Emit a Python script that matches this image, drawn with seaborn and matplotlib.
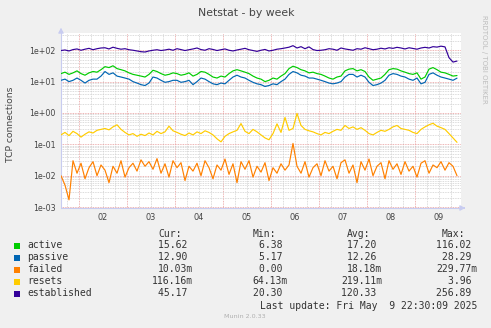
import numpy as np
import pandas as pd
import matplotlib
matplotlib.use("Agg")
import matplotlib.pyplot as plt
import seaborn as sns
from matplotlib.ticker import FixedLocator, NullFormatter, LogLocator
from matplotlib.patches import Rectangle, FancyArrowPatch
import matplotlib.transforms as mtransforms

# ---------------- data ----------------
series_names = ["active", "passive", "failed", "resets", "established"]
series_colors = ["#00CC00", "#0066B3", "#FF8000", "#FFCC00", "#330099"]

start_day = 0.625          # May 1, 15:00 (days since May 1 00:00)
step_days = 1.0 / 12.0     # 2 hours per sample

established = [
    98, 102, 95, 105, 110, 100, 108, 115, 104, 112, 118,
    120, 110, 125, 115, 108, 112, 104, 100, 95, 90,
    88, 95, 100, 104, 98, 102, 108, 100, 112, 105, 98, 104,
    110, 118, 105, 100, 112, 106, 98, 104, 110, 100, 95, 102, 108,
    115, 104, 98, 92, 100, 106, 95, 100, 108, 112, 118, 125,
    140, 118, 130, 112, 128, 105, 98, 100, 104, 112, 108, 100, 118,
    110, 105, 100, 112, 108, 120, 112, 104, 108, 116, 110, 120, 115,
    124, 118, 110, 120, 114, 108, 118, 124, 118, 130, 126, 135, 128,
    58, 42, 45.17,
]
active = [
    18, 20, 17, 19, 22, 18, 16, 19, 21, 20, 24,
    30, 28, 32, 26, 24, 22, 19, 17, 16, 15,
    14, 17, 23, 21, 18, 16, 17, 19, 18, 16, 17, 19,
    15, 17, 21, 20, 17, 14, 13, 15, 14, 18, 22, 24, 22,
    20, 18, 15, 13, 12, 10, 11, 13, 12, 15, 18, 26,
    31, 28, 24, 22, 19, 20, 18, 17, 15, 13, 12, 14, 15,
    22, 25, 26, 22, 24, 21, 14, 11, 12, 13, 17, 24, 26,
    25, 22, 20, 18, 17, 19, 12, 14, 25, 28, 24, 20, 19,
    17, 15, 15.62,
]
passive = [
    11, 12, 10, 11, 13, 11, 9, 11, 12, 12, 15,
    21, 17, 19, 15, 14, 13, 12, 10, 9, 8,
    7.5, 9, 14, 13, 11, 9.5, 10, 11, 11, 9.5, 10, 11,
    8, 10, 13, 12, 10, 8.5, 8, 9, 8.5, 11, 14, 16, 14,
    13, 11, 9.5, 8.5, 8, 7, 7.5, 8.5, 8, 10, 12, 17,
    21, 19, 16, 15, 13, 13, 12, 11, 10, 9, 8.5, 9, 10,
    14, 17, 17, 14, 16, 14, 9.5, 7.5, 8, 9, 11, 16, 18,
    17, 15, 14, 12, 11, 13, 8.5, 9.5, 17, 19, 16, 14, 13,
    12, 11, 12.9,
]
resets = [
    0.20, 0.24, 0.19, 0.26, 0.22, 0.17, 0.21, 0.25, 0.23, 0.28, 0.30,
    0.32, 0.29, 0.36, 0.42, 0.30, 0.24, 0.20, 0.22, 0.18, 0.21,
    0.19, 0.23, 0.20, 0.26, 0.22, 0.25, 0.38, 0.27, 0.24, 0.21, 0.19, 0.23,
    0.20, 0.25, 0.22, 0.27, 0.24, 0.20, 0.15, 0.12, 0.18, 0.22, 0.25, 0.28, 0.46,
    0.26, 0.22, 0.30, 0.25, 0.20, 0.16, 0.14, 0.22, 0.45, 0.24, 0.72, 0.28,
    0.32, 0.97, 0.40, 0.30, 0.27, 0.25, 0.22, 0.20, 0.24, 0.22, 0.26, 0.30, 0.28,
    0.40, 0.32, 0.36, 0.30, 0.34, 0.28, 0.22, 0.20, 0.24, 0.28, 0.26, 0.30, 0.36,
    0.40, 0.32, 0.30, 0.28, 0.24, 0.22, 0.30, 0.36, 0.42, 0.47, 0.38, 0.34, 0.30,
    0.22, 0.16, 0.116,
]
failed = [
    0.010, 0.005, 0.0017, 0.030, 0.012, 0.025, 0.008, 0.018, 0.028, 0.010, 0.022,
    0.015, 0.006, 0.020, 0.012, 0.030, 0.009, 0.018, 0.025, 0.014, 0.032,
    0.020, 0.028, 0.016, 0.035, 0.012, 0.024, 0.009, 0.030, 0.018, 0.026, 0.007, 0.020,
    0.014, 0.025, 0.010, 0.030, 0.018, 0.008, 0.022, 0.015, 0.034, 0.011, 0.024, 0.006, 0.028,
    0.016, 0.030, 0.009, 0.020, 0.013, 0.026, 0.007, 0.018, 0.012, 0.024, 0.015, 0.022,
    0.107, 0.020, 0.012, 0.028, 0.009, 0.018, 0.024, 0.010, 0.030, 0.014, 0.020, 0.008, 0.026,
    0.032, 0.012, 0.022, 0.006, 0.028, 0.015, 0.034, 0.010, 0.020, 0.026, 0.008, 0.030, 0.016,
    0.024, 0.011, 0.028, 0.014, 0.020, 0.009, 0.025, 0.030, 0.012, 0.022, 0.018, 0.028, 0.015,
    0.026, 0.020, 0.010,
]
series_values = {"active": active, "passive": passive, "failed": failed,
                 "resets": resets, "established": established}

x_day_labels = ["02", "03", "04", "05", "06", "07", "08", "09"]
y_tick_labels = ["1e-03", "1e-02", "1e-01", "1e+00", "1e+01", "1e+02"]

stat_cur = ["15.62 ", "12.90 ", "10.03m", "116.16m", "45.17 "]
stat_min = ["6.38 ", "5.17 ", "0.00 ", "64.13m", "20.30 "]
stat_avg = ["17.20 ", "12.26 ", "18.18m", "219.11m", "120.33 "]
stat_max = ["116.02 ", "28.29 ", "229.77m", "3.96 ", "256.89 "]

title = "Netstat - by week"
ylabel = "TCP connections"
last_update = "Last update: Fri May  9 22:30:09 2025"

# ---------------- figure ----------------
sns.set_theme(style="white")
plt.rcParams["font.family"] = ["DejaVu Sans"]

W, H = 491, 328
fig = plt.figure(figsize=(W / 100, H / 100), dpi=100, facecolor="#F0F0F0")
ax_l, ax_r, ax_t, ax_b = 61, 461, 33, 208
ax = fig.add_axes([ax_l / W, 1 - ax_b / H, (ax_r - ax_l) / W, (ax_b - ax_t) / H])
ax.set_facecolor("white")

frames = []
for name in series_names:
    vals = series_values[name]
    frames.append(pd.DataFrame({
        "day": start_day + step_days * np.arange(len(vals)),
        "value": vals,
        "series": name,
    }))
df = pd.concat(frames, ignore_index=True)

sns.lineplot(data=df, x="day", y="value", hue="series", hue_order=series_names,
             palette=dict(zip(series_names, series_colors)), estimator=None,
             sort=False, linewidth=0.85, legend=False, ax=ax, zorder=3)
ax.set_xlabel("")
ax.set_ylabel("")

ax.set_yscale("log")
ax.set_xlim(start_day, start_day + (ax_r - ax_l) / 48.0)
ax.set_ylim(10 ** -3.03, 10 ** 2.55)

# grid: x major at midnight (red), minor every 6 h (gray)
midnights = np.arange(1, 9)
ax.xaxis.set_major_locator(FixedLocator(midnights))
ax.xaxis.set_minor_locator(FixedLocator(np.arange(0.75, 9.0, 0.25)))
ax.xaxis.set_major_formatter(NullFormatter())
ax.yaxis.set_major_locator(FixedLocator([1e-3, 1e-2, 1e-1, 1, 10, 100]))
ax.yaxis.set_minor_locator(LogLocator(base=10, subs=np.arange(2, 10), numticks=20))
ax.yaxis.set_minor_formatter(NullFormatter())
ax.set_yticklabels(y_tick_labels)

ax.grid(which="minor", color="#CFCFCF", linestyle=(0, (1, 1)), linewidth=0.6, zorder=1)
ax.grid(which="major", color="#E89A9A", linestyle=(0, (1, 1)), linewidth=0.6, zorder=2)

ax.tick_params(axis="y", which="major", length=2, width=0.6, color="#C8C8E8",
               labelsize=5.7, labelcolor="#444444", pad=2)
ax.tick_params(axis="y", which="minor", length=0)
ax.tick_params(axis="x", which="both", length=0, labelbottom=False)

for s in ["top", "right"]:
    ax.spines[s].set_visible(False)
for s in ["left", "bottom"]:
    ax.spines[s].set_color("#C8CCF0")
    ax.spines[s].set_linewidth(0.8)

# x day labels at noon
trans = mtransforms.blended_transform_factory(ax.transData, ax.transAxes)
for i, lab in enumerate(x_day_labels):
    ax.text(midnights[i] + 0.5, -0.055, lab, transform=trans, ha="center",
            va="center", fontsize=5.9, color="#444444")

# axis arrows
fig.add_artist(FancyArrowPatch(
    (ax_l / W, 1 - ax_t / H), (ax_l / W, 1 - 25 / H), transform=fig.transFigure,
    arrowstyle="-|>,head_length=3,head_width=1.6", color="#C8CCF0", lw=0.8))
fig.add_artist(FancyArrowPatch(
    (ax_r / W, 1 - ax_b / H), (468 / W, 1 - ax_b / H), transform=fig.transFigure,
    arrowstyle="-|>,head_length=3,head_width=1.6", color="#C8CCF0", lw=0.8))

# title, y label, watermark
fig.text(246 / W, 1 - 13 / H, title, ha="center", va="center", fontsize=7.8, color="#444444")
fig.text(11 / W, 1 - 124 / H, ylabel, ha="center", va="center", rotation=90,
         fontsize=6.6, color="#444444")
fig.text(484 / W, 1 - 15 / H, "RRDTOOL / TOBI OETIKER", ha="center", va="top",
         rotation=270, fontsize=5.0, color="#BDBDBD")

# legend table
mono = "DejaVu Sans Mono"
fs = 7.0
tc = "#333333"
hy = 234
fig.text(158 / W, 1 - hy / H, "Cur:", ha="left", va="center", family=mono, fontsize=fs, color=tc)
fig.text(253 / W, 1 - hy / H, "Min:", ha="left", va="center", family=mono, fontsize=fs, color=tc)
fig.text(347 / W, 1 - hy / H, "Avg:", ha="left", va="center", family=mono, fontsize=fs, color=tc)
fig.text(442 / W, 1 - hy / H, "Max:", ha="left", va="center", family=mono, fontsize=fs, color=tc)

row_y = [245.5, 257.5, 269.5, 281.5, 293.5]
for i, name in enumerate(series_names):
    y = row_y[i]
    fig.add_artist(Rectangle((14 / W, 1 - (y + 3) / H), 6 / W, 6 / H,
                             transform=fig.transFigure, facecolor=series_colors[i],
                             edgecolor="none"))
    fig.text(27 / W, 1 - y / H, name, ha="left", va="center", family=mono, fontsize=fs, color=tc)
    for xr, col in zip([193, 288, 382, 477], [stat_cur, stat_min, stat_avg, stat_max]):
        fig.text(xr / W, 1 - y / H, col[i], ha="right", va="center", family=mono,
                 fontsize=fs, color=tc)

fig.text(477 / W, 1 - 306 / H, last_update, ha="right", va="center", family=mono,
         fontsize=fs, color=tc)
fig.text(245 / W, 1 - 316.5 / H, "Munin 2.0.33", ha="center", va="center",
         fontsize=4.6, color="#B0B0B0")

fig.savefig("out.png", dpi=100, facecolor=fig.get_facecolor())
